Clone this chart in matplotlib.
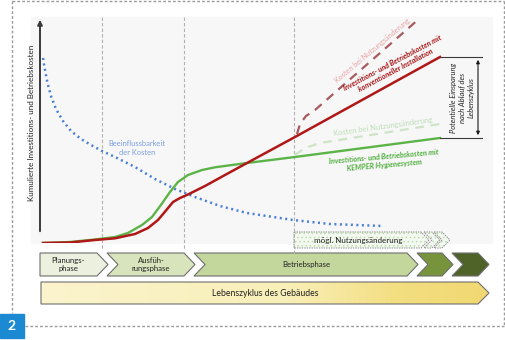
import matplotlib.pyplot as plt
import matplotlib.patches as mpatches
import numpy as np

plt.rcParams['font.family'] = ['Lato', 'DejaVu Sans']
plt.rcParams['hatch.linewidth'] = 0.6

# ---- curve data (time t in %, cumulative cost c in %) ----
green_t = [0.75, 7.5, 13.75, 18.75, 22, 25.5, 28, 30.5, 32.5, 34.5, 37, 40.5, 43.75, 51.75, 63.75, 100]
green_c = [0, 0.5, 1.75, 3, 5, 9, 13, 19.75, 25.5, 30.5, 34, 36.5, 37.85, 40, 43, 52.5]

red_t = [0.75, 7.5, 13.75, 18.75, 23.75, 27, 29.5, 31.6, 33.25, 35, 37, 41.25, 46.25, 51.75, 63.75, 100]
red_c = [0, 0.25, 1.5, 2.35, 4.5, 7.5, 11.5, 16.5, 20.5, 22.5, 24.25, 28.5, 34, 40, 53, 93]

red_dash_t = [64.25, 65, 66.5, 68.75, 95]
red_dash_c = [54.5, 59.5, 63.5, 66.5, 112.5]

green_dash_t = [63.75, 66.25, 70, 100]
green_dash_c = [44, 47.5, 50, 59.5]

blue_t = [0.75, 1.25, 1.875, 2.75, 4, 5.75, 7.75, 10.25, 12.75, 15.5, 18.75, 23.75,
          28.75, 33.75, 38.75, 45, 51.75, 63.25, 72.5, 85.75]
blue_c = [92.5, 86.5, 80, 73.5, 67, 61, 56, 52, 49, 46, 43, 38,
          32, 27, 23, 18.5, 15, 11.5, 9.5, 8.5]

phase_lines = [15.5, 36, 63.5]

# ---- phase chevrons (pixel layout) ----
phase_names = ['Planungs-\nphase', 'Ausfüh-\nrungsphase', 'Betriebsphase', '', '']
phase_left = [40, 107, 194, 417, 452, 488]
phase_colors = ['#ebf1de', '#d8e4bc', '#c3d69b', '#77933c', '#4f6228']

fig = plt.figure(figsize=(5.06, 3.40), dpi=100)
bg = fig.add_axes([0, 0, 1, 1])
bg.set_xlim(0, 506)
bg.set_ylim(340, 0)
bg.axis('off')

# dashed frame and figure number
bc = '#9a9a9a'
bg.plot([12, 12], [1, 313], color=bc, lw=1, ls=(0, (2, 1.5)))
bg.plot([12, 504], [1, 1], color=bc, lw=1, ls=(0, (2, 1.5)))
bg.plot([504, 504], [1, 326], color=bc, lw=1, ls=(0, (2, 1.5)))
bg.plot([25, 504], [326, 326], color=bc, lw=1, ls=(0, (2, 1.5)))
bg.add_patch(mpatches.Rectangle((0, 314), 24, 24, color='#1b8ad3'))
bg.text(12, 326.5, '2', color='white', fontsize=10, fontweight='bold', ha='center', va='center')

# chart background
bg.add_patch(mpatches.Rectangle((31, 17), 461, 226, color='#f7f7f7', zorder=0))


def chevron(x0, x1, y0, y1, notch, tip=11):
    ym = (y0 + y1) / 2
    pts = [(x0, y0), (x1 - tip, y0), (x1, ym), (x1 - tip, y1), (x0, y1)]
    if notch:
        pts.append((x0 + tip, ym))
    return pts


y0, y1 = 253, 276
for i, name in enumerate(phase_names):
    xl = phase_left[i]
    xr = phase_left[i + 1] + 1
    pts = chevron(xl, xr, y0, y1, i > 0)
    bg.add_patch(mpatches.Polygon(pts, closed=True, facecolor=phase_colors[i],
                                  edgecolor='#6e6e6e', lw=0.8, zorder=3))
    if name:
        cx = (xl + (11 if i > 0 else 0) + xr - 11) / 2
        bg.text(cx, (y0 + y1) / 2, name, ha='center', va='center', fontsize=5.6,
                color='#222222', zorder=4, linespacing=1.3)

# life cycle bar with gradient
lz = chevron(41, 489, 282, 304, False)
bg.add_patch(mpatches.Polygon(lz, closed=True, facecolor='none', edgecolor='#6e6e6e', lw=0.8, zorder=4))
grad = np.linspace(0, 1, 256)
cmap = plt.matplotlib.colors.LinearSegmentedColormap.from_list(
    'lz', [(0, '#fbf4cd'), (0.55, '#f9efb8'), (0.8, '#f3de80'), (1, '#f1d872')])
im = bg.imshow(grad[None, :], extent=(41, 489, 304, 282), aspect='auto', cmap=cmap, zorder=3)
im.set_clip_path(mpatches.Polygon(lz, closed=True, transform=bg.transData))
bg.text(265, 293, 'Lebenszyklus des Gebäudes', ha='center', va='center', fontsize=6.2,
        color='#222222', zorder=5)

# possible change of use box
for xs, notch, z in [((434, 450), True, 2), ((424, 440), True, 2.5), ((294, 429), False, 3)]:
    pts = chevron(xs[0], xs[1], 232, 248, notch, tip=8)
    bg.add_patch(mpatches.Polygon(pts, closed=True, facecolor='#f3f9f0', edgecolor='#b9dbad',
                                  lw=0, hatch='....', zorder=z))
    bg.add_patch(mpatches.Polygon(pts, closed=True, facecolor='none', edgecolor='#8f8f8f',
                                  lw=0.7, ls=(0, (1.5, 1)), zorder=z))
bg.text(358, 240.5, 'mögl. Nutzungsänderung', ha='center', va='center', fontsize=5.8,
        color='#222222', zorder=5)

# y axis arrow and label
bg.annotate('', xy=(40, 17), xytext=(40, 234),
            arrowprops=dict(arrowstyle='-|>', color='#3a3a3a', lw=1.4, mutation_scale=7))
bg.text(32, 123, 'Kumulierte Investitions- und Betriebskosten', rotation=90,
        ha='center', va='center', fontsize=5.8, color='#222222')

# ---- chart axes: pixel x = 40 + 4 t, y = 243 - 2 c ----
ax = fig.add_axes([31 / 506, 1 - 243 / 340, 461 / 506, 226 / 340])
ax.set_xlim(-2.25, 113)
ax.set_ylim(0, 113)
ax.axis('off')
ax.patch.set_alpha(0)

ends = [-3.5, -3.5, -5.5]
for t, e in zip(phase_lines, ends):
    ax.plot([t, t], [113, e], color='#b0b0b0', lw=0.8, ls=(0, (3, 2)), clip_on=False)

ax.plot(blue_t, blue_c, color='#4a7fd6', lw=1.8, ls=(0, (0.8, 1.4)))
ax.plot(green_dash_t, green_dash_c, color='#cde5c6', lw=1.6, ls=(0, (4, 3)))
ax.plot(red_dash_t, red_dash_c, color='#a85a5e', lw=1.6, ls=(0, (4, 3)))
ax.plot(green_t, green_c, color='#5cb449', lw=1.7, solid_joinstyle='round')
ax.plot(red_t, red_c, color='#b01818', lw=1.8, solid_joinstyle='round')

ax.text(24.2, 47.5, 'Beeinflussbarkeit\nder Kosten', ha='center', va='center', fontsize=5.4,
        color='#7b9de0', linespacing=1.3)
ax.text(83.0, 96.0, 'Kosten bei Nutzungsänderung', ha='center', va='center', fontsize=5.2,
        color='#eaa5a8', rotation=40, rotation_mode='anchor')
ax.text(88.5, 88.0, 'Investitions- und Betriebskosten mit\nkonventioneller Installation',
        ha='center', va='center', fontsize=5.2, color='#a81414', rotation=28,
        rotation_mode='anchor', style='italic', fontweight='bold', linespacing=1.2)
ax.text(85.75, 58.0, 'Kosten bei Nutzungsänderung', ha='center', va='center', fontsize=5.4,
        color='#bcdfb6', rotation=8, rotation_mode='anchor')
ax.text(86.0, 41.0, 'Investitions- und Betriebskosten mit\nKEMPER Hygienesystem',
        ha='center', va='center', fontsize=5.2, color='#4fae3d', rotation=5,
        rotation_mode='anchor', style='italic', fontweight='bold', linespacing=1.3)

# savings bracket
ax.plot([100, 110.5], [93, 93], color='#3a3a3a', lw=0.8, clip_on=False)
ax.plot([100, 110.5], [52.5, 52.5], color='#3a3a3a', lw=0.8, clip_on=False)
ax.annotate('', xy=(109.5, 93), xytext=(109.5, 52.5),
            arrowprops=dict(arrowstyle='<|-|>', color='#1a1a1a', lw=0.8, mutation_scale=5))
ax.text(105.5, 72.5, 'Potentielle Einsparung\nnach Ablauf des\nLebenszyklus', rotation=90,
        ha='center', va='center', fontsize=5.4, style='italic', color='#222222',
        linespacing=1.3)

fig.savefig('out.png', dpi=100)
